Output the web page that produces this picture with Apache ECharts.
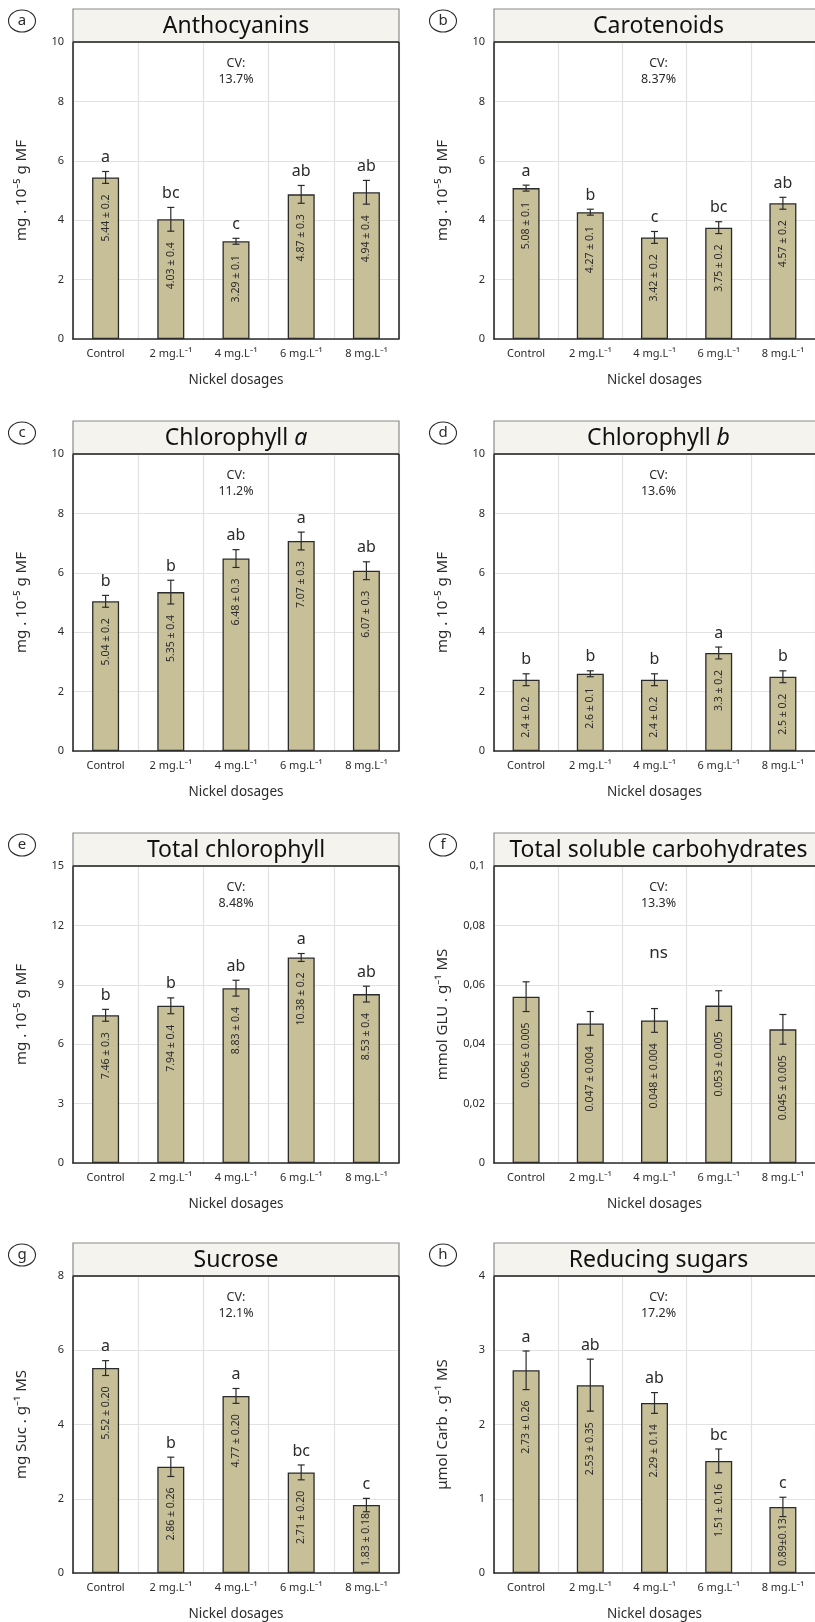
<!DOCTYPE html>
<html>
<head>
<meta charset="utf-8">
<script src="https://cdn.jsdelivr.net/npm/echarts@6/dist/echarts.min.js"></script>
<style>
  html, body { margin: 0; padding: 0; background: #fff; overflow: hidden; }
  #chart { width: 815px; height: 1622px; }
</style>
</head>
<body>
<div id="chart"></div>
<script>
// Nickel treatments on the x axis of every panel
const dosages = ['Control', '2 mg.L⁻¹', '4 mg.L⁻¹', '6 mg.L⁻¹', '8 mg.L⁻¹'];

// (a) Anthocyanins
const anthocyanins = [5.44, 4.03, 3.29, 4.87, 4.94];
const anthocyaninsSd = ['0.2', '0.4', '0.1', '0.3', '0.4'];
const anthocyaninsGroups = ['a', 'bc', 'c', 'ab', 'ab'];

// (b) Carotenoids
const carotenoids = [5.08, 4.27, 3.42, 3.75, 4.57];
const carotenoidsSd = ['0.1', '0.1', '0.2', '0.2', '0.2'];
const carotenoidsGroups = ['a', 'b', 'c', 'bc', 'ab'];

// (c) Chlorophyll a
const chlorophyllA = [5.04, 5.35, 6.48, 7.07, 6.07];
const chlorophyllASd = ['0.2', '0.4', '0.3', '0.3', '0.3'];
const chlorophyllAGroups = ['b', 'b', 'ab', 'a', 'ab'];

// (d) Chlorophyll b
const chlorophyllB = [2.4, 2.6, 2.4, 3.3, 2.5];
const chlorophyllBSd = ['0.2', '0.1', '0.2', '0.2', '0.2'];
const chlorophyllBGroups = ['b', 'b', 'b', 'a', 'b'];

// (e) Total chlorophyll
const totalChlorophyll = [7.46, 7.94, 8.83, 10.38, 8.53];
const totalChlorophyllSd = ['0.3', '0.4', '0.4', '0.2', '0.4'];
const totalChlorophyllGroups = ['b', 'b', 'ab', 'a', 'ab'];

// (f) Total soluble carbohydrates (no significant difference)
const carbohydrates = [0.056, 0.047, 0.048, 0.053, 0.045];
const carbohydratesSd = ['0.005', '0.004', '0.004', '0.005', '0.005'];
const carbohydratesGroups = ['', '', '', '', ''];

// (g) Sucrose
const sucrose = [5.52, 2.86, 4.77, 2.71, 1.83];
const sucroseSd = ['0.20', '0.26', '0.20', '0.20', '0.18'];
const sucroseGroups = ['a', 'b', 'a', 'bc', 'c'];

// (h) Reducing sugars
const reducingSugars = [2.73, 2.53, 2.29, 1.51, 0.89];
const reducingSugarsSd = ['0.26', '0.35', '0.14', '0.16', '0.13'];
const reducingSugarsGroups = ['a', 'ab', 'ab', 'bc', 'c'];
const reducingSugarsSep = [' ± ', ' ± ', ' ± ', ' ± ', '±'];

const FONT = '"Noto Sans", "DejaVu Sans", sans-serif';
const INK = '#2b2b2b';
const BAR = '#c6bf98';
const GRIDLINE = '#e2e2e2';
const LABEL_SIZE = 10.5;

const colLeft = [73, 494];
const colWidth = [326, 329];
const rowTop = [42, 454, 866, 1276];
const plotH = 297;
const titleH = 33;

const mgFresh = 'mg . 10⁻⁵ g MF';

const panels = [
  { tag: 'a', title: 'Anthocyanins', values: anthocyanins, sd: anthocyaninsSd, groups: anthocyaninsGroups, cv: '13.7%', max: 10, interval: 2, yName: mgFresh },
  { tag: 'b', title: 'Carotenoids', values: carotenoids, sd: carotenoidsSd, groups: carotenoidsGroups, cv: '8.37%', max: 10, interval: 2, yName: mgFresh },
  { tag: 'c', title: 'Chlorophyll {i|a}', values: chlorophyllA, sd: chlorophyllASd, groups: chlorophyllAGroups, cv: '11.2%', max: 10, interval: 2, yName: mgFresh },
  { tag: 'd', title: 'Chlorophyll {i|b}', values: chlorophyllB, sd: chlorophyllBSd, groups: chlorophyllBGroups, cv: '13.6%', max: 10, interval: 2, yName: mgFresh },
  { tag: 'e', title: 'Total chlorophyll', values: totalChlorophyll, sd: totalChlorophyllSd, groups: totalChlorophyllGroups, cv: '8.48%', max: 15, interval: 3, yName: mgFresh },
  { tag: 'f', title: 'Total soluble carbohydrates', values: carbohydrates, sd: carbohydratesSd, groups: carbohydratesGroups, cv: '13.3%', max: 0.1, interval: 0.02, yName: 'mmol GLU . g⁻¹ MS', comma: true, note: 'ns' },
  { tag: 'g', title: 'Sucrose', values: sucrose, sd: sucroseSd, groups: sucroseGroups, cv: '12.1%', max: 8, interval: 2, yName: 'mg Suc . g⁻¹ MS' },
  { tag: 'h', title: 'Reducing sugars', values: reducingSugars, sd: reducingSugarsSd, groups: reducingSugarsGroups, cv: '17.2%', max: 4, interval: 1, yName: 'μmol Carb . g⁻¹ MS', sep: reducingSugarsSep }
];

// Text measuring, used to keep the rotated value labels inside short bars
const measureCtx = document.createElement('canvas').getContext('2d');
measureCtx.font = `${LABEL_SIZE}px ${FONT}`;
const textWidth = s => measureCtx.measureText(s).width;

const grids = [], xAxes = [], yAxes = [], series = [], graphics = [];

panels.forEach((p, k) => {
  const col = k % 2, row = Math.floor(k / 2);
  const left = colLeft[col], width = colWidth[col], top = rowTop[row];

  grids.push({ left, top, width, height: plotH, show: false, containLabel: false });

  xAxes.push({
    type: 'category', gridIndex: k, data: dosages,
    boundaryGap: true,
    axisLine: { lineStyle: { color: INK, width: 1.6 } },
    axisTick: { show: false },
    axisLabel: { color: INK, fontFamily: FONT, fontSize: 11, margin: 9, interval: 0 },
    splitLine: { show: true, interval: 0, lineStyle: { color: GRIDLINE, width: 1.2 } },
    name: 'Nickel dosages', nameLocation: 'middle', nameGap: 34,
    nameTextStyle: { color: INK, fontFamily: FONT, fontSize: 13.5 }
  });

  yAxes.push({
    type: 'value', gridIndex: k, min: 0, max: p.max, interval: p.interval,
    axisLine: { show: true, lineStyle: { color: INK, width: 1.6 } },
    axisTick: { show: false },
    axisLabel: {
      color: INK, fontFamily: FONT, fontSize: 11, margin: 9,
      formatter: v => {
        const s = String(+v.toFixed(3));
        return p.comma ? s.replace('.', ',') : s;
      }
    },
    splitLine: { show: true, lineStyle: { color: GRIDLINE, width: 1.2 } },
    name: p.yName, nameLocation: 'middle', nameGap: 44,
    nameTextStyle: { color: INK, fontFamily: FONT, fontSize: 15 }
  });

  const sep = p.sep || [' ± ', ' ± ', ' ± ', ' ± ', ' ± '];
  const labelText = i => `${p.values[i]}${sep[i]}${p.sd[i]}`;

  series.push({
    type: 'bar', xAxisIndex: k, yAxisIndex: k,
    data: p.values.map((v, i) => {
      // value label starts just under the lower whisker, unless the bar is too short
      const barPx = v / p.max * plotH;
      const sdPx = parseFloat(p.sd[i]) / p.max * plotH;
      const room = barPx - textWidth(labelText(i)) - 7;
      const dist = Math.max(3, Math.min(sdPx + 11, room));
      return { value: v, label: { distance: dist } };
    }),
    barWidth: 27,
    itemStyle: { color: BAR, borderColor: INK, borderWidth: 1.3 },
    label: {
      show: true, position: 'insideTop', rotate: 90,
      align: 'right', verticalAlign: 'middle',
      color: INK, fontFamily: FONT, fontSize: LABEL_SIZE,
      formatter: params => labelText(params.dataIndex)
    },
    silent: true, z: 2
  });

  series.push({
    type: 'custom', xAxisIndex: k, yAxisIndex: k,
    data: p.values.map((v, i) => [i, v, parseFloat(p.sd[i])]),
    encode: { x: 0, y: 1 },
    z: 3, silent: true,
    renderItem: (params, api) => {
      const i = api.value(0), v = api.value(1), e = api.value(2);
      const hi = api.coord([i, v + e]);
      const lo = api.coord([i, v - e]);
      const x = hi[0], cap = 3.5;
      const st = { stroke: INK, lineWidth: 1.2 };
      const children = [
        { type: 'line', shape: { x1: x, y1: hi[1], x2: x, y2: lo[1] }, style: st },
        { type: 'line', shape: { x1: x - cap, y1: hi[1], x2: x + cap, y2: hi[1] }, style: st },
        { type: 'line', shape: { x1: x - cap, y1: lo[1], x2: x + cap, y2: lo[1] }, style: st }
      ];
      const g = p.groups[params.dataIndex];
      if (g) {
        children.push({
          type: 'text', x: x, y: hi[1] - 14,
          style: { text: g, fill: INK, font: `16px ${FONT}`, align: 'center', verticalAlign: 'middle' }
        });
      }
      return { type: 'group', children };
    }
  });

  // Title box above the plot
  graphics.push({
    type: 'rect', shape: { x: left, y: top - titleH, width: width, height: titleH },
    style: { fill: '#f4f3ee', stroke: '#8a8a8a', lineWidth: 1.2 }, z: 10
  });
  graphics.push({
    type: 'line', shape: { x1: left, y1: top, x2: left + width, y2: top },
    style: { stroke: INK, lineWidth: 1.6 }, z: 11
  });
  // Right border of the plot
  graphics.push({
    type: 'line', shape: { x1: left + width, y1: top, x2: left + width, y2: top + plotH },
    style: { stroke: INK, lineWidth: 1.6 }, z: 11
  });
  graphics.push({
    type: 'text', x: left + width / 2, y: top - titleH / 2 + 1,
    style: {
      text: p.title, fill: '#111', font: `23px ${FONT}`, align: 'center', verticalAlign: 'middle',
      rich: { i: { fontStyle: 'italic', fontSize: 23, fontFamily: FONT, fill: '#111' } }
    }, z: 12
  });

  // Panel tag in an oval
  const tx = col === 0 ? 22 : 443, ty = top - titleH + 12;
  graphics.push({
    type: 'ellipse', shape: { cx: tx, cy: ty, rx: 13.5, ry: 11 },
    style: { fill: '#fff', stroke: INK, lineWidth: 1.1 }, z: 10
  });
  graphics.push({
    type: 'text', x: tx, y: ty - 0.5,
    style: { text: p.tag, fill: INK, font: `15px ${FONT}`, align: 'center', verticalAlign: 'middle' }, z: 11
  });

  // Coefficient of variation
  graphics.push({
    type: 'text', x: left + width / 2, y: top + 29,
    style: { text: 'CV:\n' + p.cv, fill: INK, font: `12.5px ${FONT}`, lineHeight: 16, align: 'center', verticalAlign: 'middle' }, z: 5
  });

  if (p.note) {
    graphics.push({
      type: 'text', x: left + width / 2, y: top + 87,
      style: { text: p.note, fill: INK, font: `17px ${FONT}`, align: 'center', verticalAlign: 'middle' }, z: 5
    });
  }
});

const chart = echarts.init(document.getElementById('chart'), null, { renderer: 'canvas' });
chart.setOption({
  animation: false,
  backgroundColor: '#fff',
  textStyle: { fontFamily: FONT },
  grid: grids,
  xAxis: xAxes,
  yAxis: yAxes,
  series: series,
  graphic: { elements: graphics }
});
</script>
</body>
</html>
